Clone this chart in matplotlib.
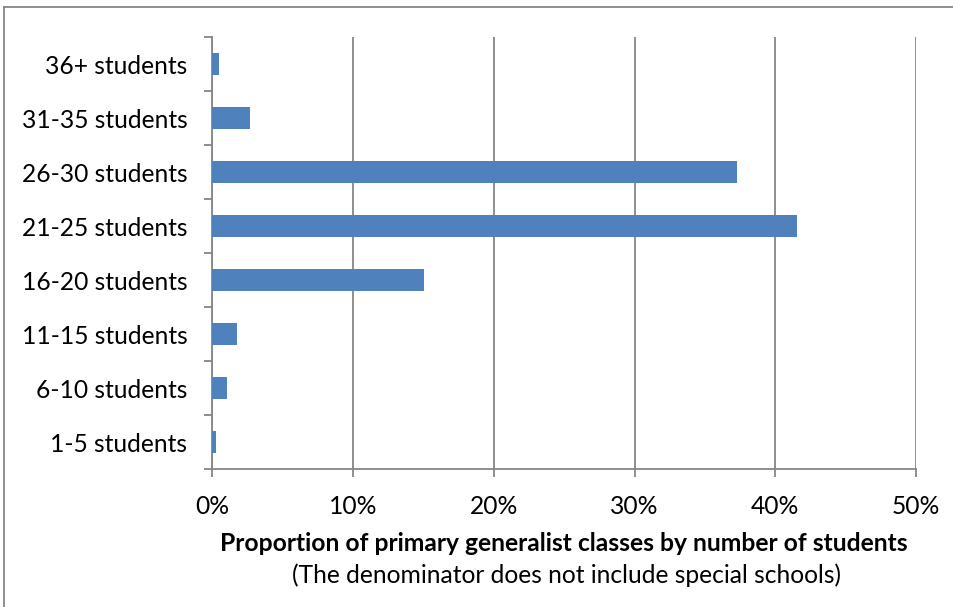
import matplotlib.pyplot as plt
from matplotlib.lines import Line2D
from matplotlib.ticker import FuncFormatter, MultipleLocator

plt.rcParams['font.family'] = ['Lato', 'DejaVu Sans']

categories = ['1-5 students', '6-10 students', '11-15 students', '16-20 students',
              '21-25 students', '26-30 students', '31-35 students', '36+ students']
shares = [0.23, 1.08, 1.77, 15.06, 41.52, 37.26, 2.65, 0.5]

bar_color = '#4f81bd'
grid_color = '#868686'
fsize = 17.7

fig = plt.figure(figsize=(9.54, 6.07), dpi=100)
ax = fig.add_axes([212.3 / 954, 1 - 469 / 607, (916 - 212.3) / 954, (469 - 37) / 607])

ax.barh(range(len(categories)), shares, height=0.4, color=bar_color, zorder=3)

ax.set_xlim(0, 50)
ax.set_ylim(-0.5, len(categories) - 0.5)
ax.xaxis.set_major_locator(MultipleLocator(10))
ax.xaxis.set_major_formatter(FuncFormatter(lambda v, p: f'{v:.0f}%'))
ax.set_yticks(range(len(categories)))
ax.set_yticklabels(categories)
ax.set_yticks([i - 0.5 for i in range(len(categories) + 1)], minor=True)

ax.grid(axis='x', color=grid_color, linewidth=1.3, zorder=0)
for side in ('top', 'right'):
    ax.spines[side].set_visible(False)
for side in ('left', 'bottom'):
    ax.spines[side].set_color(grid_color)
    ax.spines[side].set_linewidth(1.3)

ax.tick_params(axis='y', which='major', length=0, labelsize=fsize, pad=18, colors='black')
ax.tick_params(axis='y', which='minor', length=6, width=1.3, color=grid_color)
ax.tick_params(axis='x', length=6, width=1.3, color=grid_color, labelsize=fsize,
               pad=13, labelcolor='black')

ax.set_xlabel('Proportion of primary generalist classes by number of students',
              fontsize=fsize, fontweight='bold', labelpad=10)
fig.text(566 / 954, 1 - 575 / 607, '(The denominator does not include special schools)',
         fontsize=fsize, ha='center', va='center')

# chart frame, running off the right and bottom edges
fig.add_artist(Line2D([4 / 954, 1.0], [1 - 7 / 607, 1 - 7 / 607],
                      transform=fig.transFigure, color=grid_color, linewidth=1.3))
fig.add_artist(Line2D([4 / 954, 4 / 954], [0.0, 1 - 7 / 607],
                      transform=fig.transFigure, color=grid_color, linewidth=1.3))

fig.savefig('out.png', dpi=100)
